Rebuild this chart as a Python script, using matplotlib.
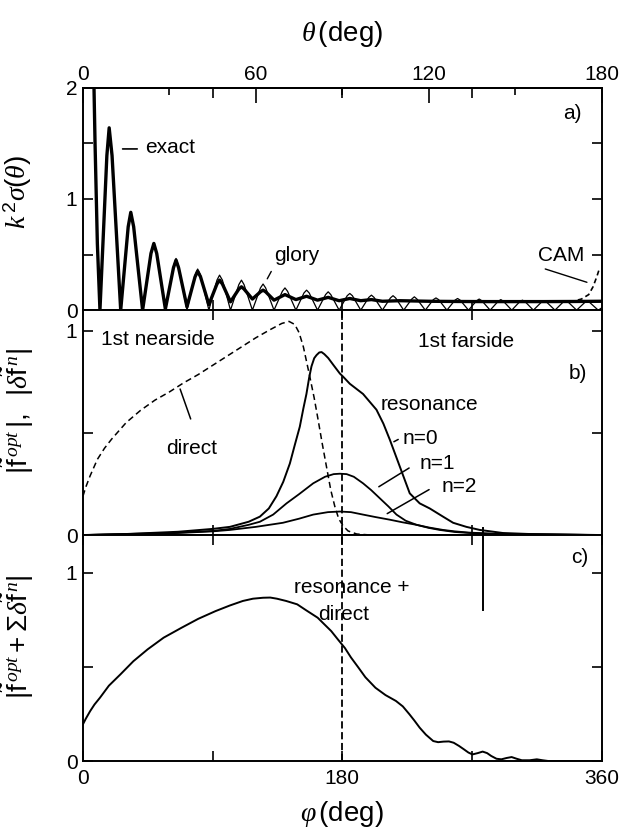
import matplotlib as mpl
mpl.use('Agg')
import matplotlib.pyplot as plt

plt.rcParams['font.family'] = ['Liberation Sans', 'DejaVu Sans']
plt.rcParams['mathtext.fontset'] = 'custom'
plt.rcParams['mathtext.rm'] = 'Liberation Sans'
plt.rcParams['mathtext.it'] = 'Liberation Serif:italic'
plt.rcParams['mathtext.bf'] = 'Liberation Sans:bold'

# ---- panel a: k^2 sigma(theta) vs theta (deg) ----
theta_glory = [3.4, 4.2, 5.0, 5.9,
               8.3, 9.1, 10.1, 13.1,
               15.7, 16.6, 17.6, 20.7,
               23.6, 24.6, 25.6, 28.6,
               31.4, 32.3, 33.2, 36.1,
               38.9, 39.8, 40.8, 43.7,
               46.5, 47.4, 48.4, 51.2,
               54.1, 55.0, 55.9, 58.8,
               61.6, 62.5, 63.4, 66.3,
               69.2, 70.1, 71.0, 73.9,
               76.7, 77.6, 78.5, 81.4,
               84.2, 85.1, 86.0, 88.9,
               91.7, 92.6, 93.5, 96.4,
               99.2, 100.1, 101.0, 103.9,
               106.7, 107.6, 108.5, 111.3,
               114.1, 115.0, 115.9, 118.8,
               121.6, 122.5, 123.4, 126.3,
               129.1, 130.0, 130.9, 133.8,
               136.6, 137.5, 138.4, 141.3,
               144.1, 145.0, 145.9, 148.8,
               151.6, 152.5, 153.4, 156.3,
               159.1, 160.0, 160.9, 163.8,
               166.6, 167.5, 168.4, 171.3,
               174.1, 175.0, 175.9, 178.8, 180.0]
sigma_glory = [2.6, 1.5, 0.6, 0.0,
               1.39, 1.64, 1.39, 0.0,
               0.75, 0.88, 0.75, 0.0,
               0.51, 0.60, 0.51, 0.0,
               0.395, 0.465, 0.395, 0.0,
               0.315, 0.37, 0.315, 0.0,
               0.27, 0.315, 0.27, 0.0,
               0.23, 0.27, 0.23, 0.0,
               0.20, 0.235, 0.20, 0.0,
               0.17, 0.20, 0.17, 0.0,
               0.155, 0.18, 0.155, 0.0,
               0.14, 0.165, 0.14, 0.0,
               0.13, 0.15, 0.13, 0.0,
               0.115, 0.135, 0.115, 0.0,
               0.11, 0.13, 0.11, 0.0,
               0.10, 0.12, 0.10, 0.0,
               0.095, 0.11, 0.095, 0.0,
               0.09, 0.105, 0.09, 0.0,
               0.085, 0.10, 0.085, 0.0,
               0.08, 0.095, 0.08, 0.0,
               0.077, 0.09, 0.077, 0.0,
               0.072, 0.085, 0.072, 0.0,
               0.072, 0.085, 0.072, 0.0,
               0.068, 0.08, 0.068, 0.0, 0.02]

theta_exact = [3.4, 4.2, 5.0, 5.9,
               8.3, 9.1, 10.1, 13.1,
               15.7, 16.6, 17.6, 20.7,
               23.6, 24.6, 25.6, 28.6,
               31.4, 32.3, 33.2, 36.1,
               38.9, 39.8, 40.8, 43.7,
               46.5, 47.4, 48.4, 51.2,
               54.1, 55.0, 55.9, 58.8,
               61.6, 62.5, 63.4, 66.3,
               70.1, 73.9, 77.6, 81.4, 85.1, 88.9, 92.6, 96.4,
               100.1, 103.9, 110.0, 120.0, 130.0, 140.0, 150.0,
               160.0, 170.0, 180.0]
sigma_exact = [2.6, 1.5, 0.6, 0.0,
               1.39, 1.64, 1.39, 0.0,
               0.75, 0.88, 0.75, 0.0,
               0.51, 0.60, 0.51, 0.01,
               0.38, 0.45, 0.38, 0.03,
               0.30, 0.35, 0.30, 0.05,
               0.235, 0.27, 0.235, 0.075,
               0.19, 0.21, 0.19, 0.10,
               0.165, 0.18, 0.165, 0.09,
               0.14, 0.095, 0.125, 0.09, 0.115, 0.085, 0.105, 0.085,
               0.095, 0.08, 0.085, 0.08, 0.078, 0.077, 0.077,
               0.077, 0.078, 0.08]

theta_cam = [166.0, 170.0, 173.0, 175.5, 177.0, 178.3, 179.3]
sigma_cam = [0.075, 0.08, 0.10, 0.14, 0.21, 0.30, 0.38]

# ---- panel b: |f_opt| (direct) and |delta f^n| (resonance) vs phi ----
phi_direct = [0, 2, 5, 7.5, 10, 15, 20, 25, 30, 40, 50, 60, 70, 80, 90, 100,
              110, 120, 130, 138, 143, 147, 150, 153, 157.4, 160.5, 163.2,
              166, 169, 172, 174.8, 177.5, 180.5, 184, 190, 200]
f_direct = [0.19, 0.235, 0.29, 0.33, 0.37, 0.425, 0.47, 0.51, 0.55, 0.61,
            0.66, 0.70, 0.745, 0.785, 0.83, 0.875, 0.92, 0.965, 1.005, 1.035,
            1.045, 1.03, 0.99, 0.92, 0.776, 0.67, 0.564, 0.45, 0.335, 0.22,
            0.14, 0.08, 0.045, 0.02, 0.005, 0.0]

phi_n0 = [0, 30, 66, 90, 102, 115, 122.8, 129, 134.3, 139, 143.6, 147, 150.5,
          153, 155.1, 157, 158.6, 160.5, 162.1, 164, 165.6, 167.5, 170.2, 174,
          178.3, 180.5, 185.2, 194.4, 203.7, 208.5, 213, 219.9, 226.8, 233.7,
          240.7, 249.9, 256.9, 266.1, 275.4, 291.4, 310, 360]
f_n0 = [0.0, 0.005, 0.016, 0.03, 0.04, 0.065, 0.09, 0.13, 0.19, 0.26, 0.35,
        0.44, 0.53, 0.62, 0.69, 0.77, 0.825, 0.865, 0.88, 0.893, 0.895, 0.885,
        0.866, 0.83, 0.79, 0.775, 0.74, 0.69, 0.613, 0.545, 0.466, 0.335,
        0.204, 0.155, 0.13, 0.09, 0.06, 0.04, 0.025, 0.01, 0.005, 0.0]

phi_n1 = [0, 60, 90, 102, 115, 122.8, 132, 141.3, 150, 159.8, 168, 174, 178.3,
          183, 188, 194.4, 200, 206, 212, 217.6, 224, 231.5, 240, 247.6, 258,
          268.4, 290, 360]
f_n1 = [0.0, 0.01, 0.02, 0.03, 0.05, 0.065, 0.10, 0.155, 0.20, 0.253, 0.285,
        0.298, 0.30, 0.298, 0.285, 0.253, 0.22, 0.18, 0.14, 0.10, 0.07, 0.05,
        0.035, 0.025, 0.015, 0.01, 0.004, 0.0]

phi_n2 = [0, 40, 66, 90, 102, 120, 138.8, 150, 159.8, 170, 178.3, 186, 194.4,
          203, 213, 222, 231.5, 240, 249.9, 258, 268, 290, 360]
f_n2 = [0.0, 0.005, 0.01, 0.018, 0.025, 0.04, 0.06, 0.08, 0.10, 0.112, 0.115,
        0.112, 0.10, 0.088, 0.075, 0.062, 0.05, 0.037, 0.025, 0.018, 0.012,
        0.005, 0.0]

# ---- panel c: |f_opt + sum delta f^n| ----
phi_sum = [0, 2, 5, 8, 11.8, 18, 26, 35, 44.9, 56, 68.5, 80, 92, 102, 111,
           118, 125, 130, 134.6, 141, 148.7, 155, 162.9, 167, 172.3, 177,
           181.8, 186, 191.2, 196, 203, 210, 217.2, 222, 226.6, 230, 233.7,
           238, 243.1, 246.5, 250.2, 254, 257.3, 261, 264.4, 267.5, 270.3,
           274, 277.4, 280.5, 283.3, 287, 290.4, 294, 297.5, 301, 304.6, 310,
           315, 319, 323, 360]
f_sum = [0.195, 0.225, 0.265, 0.30, 0.336, 0.40, 0.46, 0.53, 0.593, 0.655,
         0.708, 0.755, 0.796, 0.826, 0.85, 0.862, 0.867, 0.868, 0.862, 0.85,
         0.832, 0.80, 0.761, 0.73, 0.69, 0.645, 0.60, 0.55, 0.496, 0.445,
         0.389, 0.35, 0.319, 0.29, 0.248, 0.215, 0.177, 0.14, 0.106, 0.10,
         0.103, 0.104, 0.097, 0.08, 0.062, 0.045, 0.035, 0.042, 0.05, 0.042,
         0.027, 0.012, 0.009, 0.016, 0.021, 0.012, 0.004, 0.004, 0.009, 0.004,
         0.0, 0.0]

phi_ticks = [0, 180, 360]
theta_ticks = [0, 60, 120, 180]

TICK_FS = 15
LAB_FS = 20
TXT_FS = 15

fig = plt.figure(figsize=(6.19, 8.36), dpi=100)
L, W = 0.134, 0.838
axa = fig.add_axes([L, 0.629, W, 0.266])
axb = fig.add_axes([L, 0.360, W, 0.269])
axc = fig.add_axes([L, 0.0897, W, 0.2703])

for ax in (axa, axb, axc):
    for s in ax.spines.values():
        s.set_linewidth(1.4)
    ax.tick_params(which='both', direction='in', left=True, right=True,
                   top=True, bottom=True, width=1.2, labelsize=TICK_FS, pad=4)
    ax.tick_params(which='major', length=7)
    ax.tick_params(which='minor', length=4)

# panel a
axa.plot(theta_glory, sigma_glory, color='k', lw=0.9)
axa.plot(theta_exact, sigma_exact, color='k', lw=2.4)
axa.plot(theta_cam, sigma_cam, color='k', lw=1.2, ls=(0, (3, 2)))
axa.set_xlim(0, 180)
axa.set_ylim(0, 2)
axa.set_xticks([45, 90, 135])
axa.set_yticks([0, 0.5, 1, 1.5, 2])
axa.set_yticklabels(['0', '', '1', '', '2'])
axa.tick_params(labelbottom=False, labeltop=False)
sec = axa.secondary_xaxis('top')
sec.set_xticks(theta_ticks)
sec.set_xticks([30, 90, 150], minor=True)
sec.tick_params(which='both', direction='in', width=1.2, labelsize=TICK_FS, pad=3)
sec.tick_params(which='major', length=11)
sec.tick_params(which='minor', length=5)
sec.spines['top'].set_linewidth(1.4)
sec.set_xlabel(r'$\theta\,$(deg)', fontsize=LAB_FS, labelpad=17)
axa.set_ylabel(r'$k^{\,2}\sigma(\theta)$', fontsize=LAB_FS)
axa.yaxis.set_label_coords(-0.095, 0.53)

axa.text(170, 1.77, 'a)', fontsize=TXT_FS, ha='center', va='center')
axa.annotate('', xy=(12.8, 1.45), xytext=(19.8, 1.45),
             arrowprops=dict(arrowstyle='-', lw=1.2, color='k'))
axa.text(21.5, 1.46, 'exact', fontsize=TXT_FS, ha='left', va='center')
axa.text(74.2, 0.495, 'glory', fontsize=TXT_FS, ha='center', va='center')
axa.annotate('', xy=(63.5, 0.26), xytext=(65.8, 0.37),
             arrowprops=dict(arrowstyle='-', lw=1.0, color='k'))
axa.text(166.0, 0.495, 'CAM', fontsize=TXT_FS, ha='center', va='center')
axa.annotate('', xy=(175.8, 0.243), xytext=(159.5, 0.378),
             arrowprops=dict(arrowstyle='-', lw=1.0, color='k'))

# panel b
axb.plot(phi_direct, f_direct, color='k', lw=1.1, ls=(0, (4, 2.5)))
axb.plot(phi_n0, f_n0, color='k', lw=1.4)
axb.plot(phi_n1, f_n1, color='k', lw=1.3)
axb.plot(phi_n2, f_n2, color='k', lw=1.3)
axb.axvline(180, color='k', lw=1.3, ls=(0, (4, 2)))
axb.plot([277.5, 277.5], [0.035, 0.0], color='k', lw=1.4)
axb.set_xlim(0, 360)
axb.set_ylim(0, 1.1)
axb.set_xticks([90, 180, 270])
axb.set_yticks([0, 0.5, 1])
axb.set_yticklabels(['0', '', '1'])
axb.tick_params(labelbottom=False)
axb.set_ylabel(r'$|\tilde{\mathrm{f}}^{\,opt}\,|,\ \ |\delta\tilde{\mathrm{f}}^{\,n}|$',
               fontsize=LAB_FS)
axb.yaxis.set_label_coords(-0.09, 0.55)

axb.text(12.5, 0.955, '1st nearside', fontsize=TXT_FS, ha='left', va='center')
axb.text(266, 0.948, '1st farside', fontsize=TXT_FS, ha='center', va='center')
axb.text(343.6, 0.79, 'b)', fontsize=TXT_FS, ha='center', va='center')
axb.text(75.4, 0.425, 'direct', fontsize=TXT_FS, ha='center', va='center')
axb.annotate('', xy=(66.8, 0.727), xytext=(75.4, 0.555),
             arrowprops=dict(arrowstyle='-', lw=1.1, color='k'))
axb.text(240.7, 0.637, 'resonance', fontsize=TXT_FS, ha='center', va='center')
axb.text(234.5, 0.474, 'n=0', fontsize=TXT_FS, ha='center', va='center')
axb.annotate('', xy=(214.1, 0.45), xytext=(220.5, 0.474),
             arrowprops=dict(arrowstyle='-', lw=1.1, color='k'))
axb.text(246, 0.348, 'n=1', fontsize=TXT_FS, ha='center', va='center')
axb.annotate('', xy=(203.7, 0.229), xytext=(228.0, 0.335),
             arrowprops=dict(arrowstyle='-', lw=1.1, color='k'))
axb.text(261, 0.237, 'n=2', fontsize=TXT_FS, ha='center', va='center')
axb.annotate('', xy=(209.5, 0.098), xytext=(241.9, 0.229),
             arrowprops=dict(arrowstyle='-', lw=1.1, color='k'))

# panel c
axc.plot(phi_sum, f_sum, color='k', lw=1.4)
axc.axvline(180, color='k', lw=1.3, ls=(0, (4, 2)))
axc.plot([277.5, 277.5], [1.2, 0.8], color='k', lw=1.4)
axc.set_xlim(0, 360)
axc.set_ylim(0, 1.2)
axc.set_xticks([0, 90, 180, 270, 360])
axc.set_xticklabels(['0', '', '180', '', '360'])
axc.set_yticks([0, 0.5, 1])
axc.set_yticklabels(['0', '', '1'])
axc.tick_params(axis='x', pad=6)
axc.set_xlabel(r'$\varphi\,$(deg)', fontsize=LAB_FS, labelpad=8)
axc.set_ylabel(r'$|\tilde{\mathrm{f}}^{\,opt}+\Sigma\delta\tilde{\mathrm{f}}^{\,n}|$',
               fontsize=LAB_FS)
axc.yaxis.set_label_coords(-0.09, 0.55)

axc.text(344.6, 1.08, 'c)', fontsize=TXT_FS, ha='center', va='center')
axc.text(186.5, 0.92, 'resonance +', fontsize=TXT_FS, ha='center', va='center')
axc.text(180.6, 0.78, 'direct', fontsize=TXT_FS, ha='center', va='center')

fig.savefig('out.png', dpi=100, facecolor='white')
